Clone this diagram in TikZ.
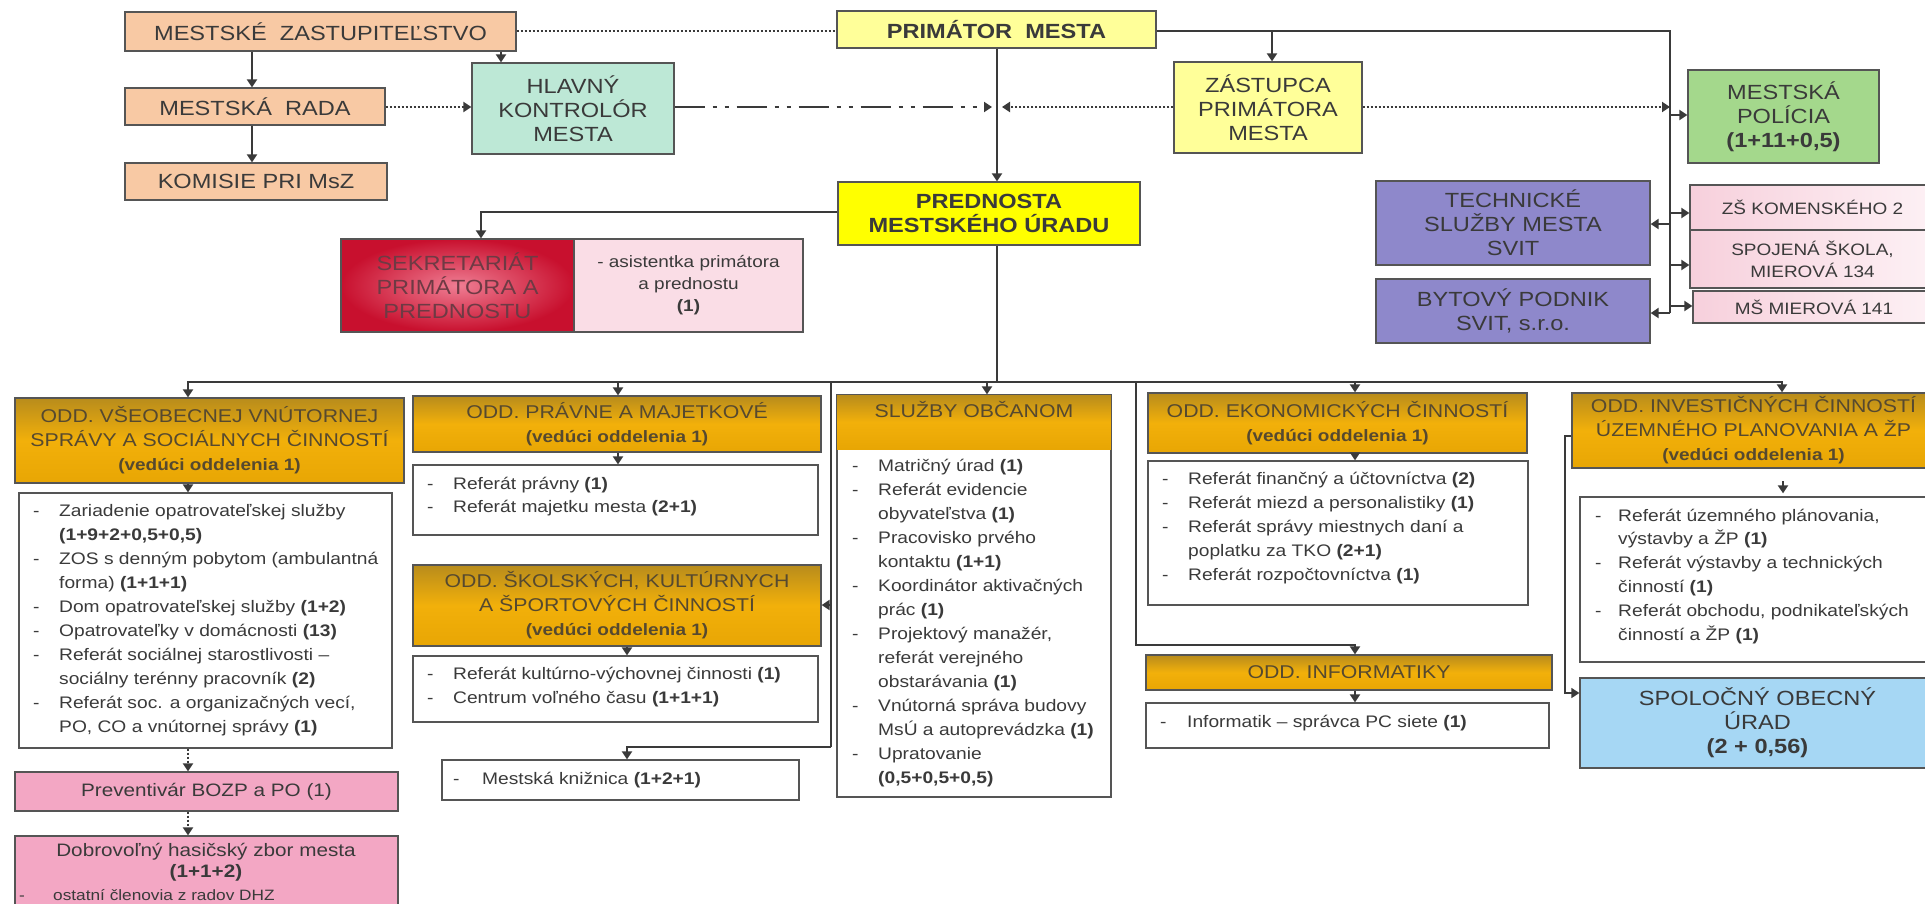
\documentclass[tikz,border=0pt]{standalone}
\usepackage{fontspec}
\setmainfont[FakeStretch=1.15]{Liberation Sans}
\usetikzlibrary{arrows.meta}
\definecolor{peach}{HTML}{F8C9A4}
\definecolor{mint}{HTML}{BDE8D6}
\definecolor{lyel}{HTML}{FFFF99}
\definecolor{byel}{HTML}{FFFF00}
\definecolor{pgreen}{HTML}{A4D88C}
\definecolor{purp}{HTML}{8E88CB}
\definecolor{lpink}{HTML}{FADDE6}
\definecolor{spka}{HTML}{F7D0DC}
\definecolor{spkb}{HTML}{FDF1F5}
\definecolor{mpink}{HTML}{F3A7C4}
\definecolor{skyb}{HTML}{A6D7F4}
\definecolor{redo}{HTML}{C8102E}
\definecolor{redi}{HTML}{EF7D93}
\definecolor{hdtop}{HTML}{B88C1C}
\definecolor{hdmid}{HTML}{F2B00A}
\definecolor{hdbot}{HTML}{E8A604}
\definecolor{bordc}{HTML}{555555}
\definecolor{linec}{HTML}{3A3A3A}
\definecolor{txt}{HTML}{3A3A3A}
\definecolor{hdtxt}{HTML}{56492F}
\definecolor{redtxt}{HTML}{6E3A44}
\newcommand\fbig{\fontsize{20.5}{24}\selectfont}
\newcommand\fhd{\fontsize{18.5}{24}\selectfont}
\newcommand\fved{\fontsize{16.5}{24}\selectfont\bfseries}
\newcommand\flst{\fontsize{16.7}{24}\selectfont}
\newcommand\fsm{\fontsize{16.5}{22}\selectfont}
\newcommand\lstrut{\rule{0pt}{16.8pt}}
\newcommand\bitem[1]{\makebox[26pt][l]{-}#1}
\newcommand\bcont[1]{\hspace*{26pt}#1}
\begin{document}
\begin{tikzpicture}[x=1pt,y=-1pt,
  rect/.style args={#1,#2,#3,#4}{minimum width={#3-#1}, minimum height={#4-#2}, at={({(#1+#3)/2},{(#2+#4)/2})}},
  box/.style={draw=bordc,line width=1.3pt,inner sep=0pt,align=center,text=txt,font=\fbig},
  hd/.style={box,top color=hdtop,bottom color=hdbot,middle color=hdmid,text=hdtxt,font=\fhd},
  school/.style={box,left color=spka,right color=spkb,font=\fsm},
  lbox/.style={draw=bordc,line width=1.3pt,inner sep=0pt,fill=white},
  lst/.style={anchor=north west,inner sep=0pt,align=left,text=txt,font=\flst},
  conn/.style={draw=linec,line width=2.4pt},
  tip/.style={-{Triangle[length=8pt,width=10pt]}},
  arr/.style={conn,tip},
  dotl/.style={draw=linec,line width=2pt,dash pattern=on 2pt off 2pt},
  dotarr/.style={dotl,tip},
  ddarr/.style={draw=linec,line width=2.4pt,dash pattern=on 30pt off 8pt on 4pt off 8pt on 4pt off 8pt,tip},
  thinarr/.style={draw=linec,line width=1.6pt,tip}
]
\fill[white] (0,0) rectangle (1925,903);
\useasboundingbox (0,0) rectangle (1925,903);

% helper coordinates
\coordinate (c1) at (252,0);
\coordinate (c2) at (501,0);
\coordinate (c3) at (997,0);
\coordinate (c4) at (1272,0);
\coordinate (c5) at (1670,0);
\coordinate (c6) at (481,0);
\coordinate (c7) at (188,0);
\coordinate (c8) at (618,0);
\coordinate (c8b) at (627,0);
\coordinate (c9) at (831,0);
\coordinate (c10) at (987,0);
\coordinate (c11) at (1136,0);
\coordinate (c12) at (1355,0);
\coordinate (c13) at (1782,0);
\coordinate (c14) at (1565,0);
\coordinate (r0) at (0,31);
\coordinate (r1) at (0,107);
\coordinate (yp) at (0,115);
\coordinate (yzs) at (0,213);
\coordinate (ys) at (0,212);
\coordinate (yt) at (0,224);
\coordinate (ysp) at (0,265);
\coordinate (yms) at (0,306);
\coordinate (ybyt) at (0,313);
\coordinate (bus) at (0,382);
\coordinate (ysk) at (0,605);
\coordinate (yk) at (0,747);
\coordinate (yi) at (0,645);
\coordinate (yb) at (0,436);
\coordinate (ysp2) at (0,693);
\coordinate (hk) at (992,107);
\coordinate (zk) at (1002,107);
\coordinate (fa) at (1783,481);

% top part
\node[box,fill=peach,rect={125,12,516,51}] (zast) {MESTSKÉ\ \ ZASTUPITEĽSTVO};
\node[box,fill=peach,rect={125,88,385,125}] (rada) {MESTSKÁ\ \ RADA};
\node[box,fill=peach,rect={125,163,387,200}] (komis) {KOMISIE PRI MsZ};
\node[box,fill=mint,rect={472,63,674,154}] (hlav) {HLAVNÝ\\KONTROLÓR\\MESTA};
\node[box,fill=lyel,rect={837,11,1156,48},font=\fbig\bfseries] (prim) {PRIMÁTOR\ \ MESTA};
\node[box,fill=byel,rect={838,182,1140,245},font=\fbig\bfseries] (pred) {PREDNOSTA\\MESTSKÉHO ÚRADU};
\node[box,fill=lyel,rect={1174,62,1362,153}] (zast2) {ZÁSTUPCA\\PRIMÁTORA\\MESTA};
\node[box,fill=pgreen,rect={1688,70,1879,163}] (pol) {MESTSKÁ\\POLÍCIA\\\textbf{(1+11+0,5)}};
\node[box,fill=purp,rect={1376,181,1650,265}] (tech) {TECHNICKÉ\\SLUŽBY MESTA\\SVIT};
\node[box,fill=purp,rect={1376,279,1650,343}] (byt) {BYTOVÝ PODNIK\\SVIT, s.r.o.};
\node[school,rect={1690,185,1935,230}] (zs) {ZŠ KOMENSKÉHO 2};
\node[school,rect={1690,230,1935,288}] (spoj) {SPOJENÁ ŠKOLA,\\MIEROVÁ 134};
\node[school,rect={1693,291,1935,323}] (ms) {MŠ MIEROVÁ 141};
\node[box,inner color=redi,outer color=redo,text=redtxt,rect={341,239,574,332}] (sekr) {SEKRETARIÁT\\PRIMÁTORA A\\PREDNOSTU};
\node[box,fill=lpink,font=\fsm,rect={574,239,803,332}] (asis) {- asistentka primátora\\a prednostu\\\textbf{(1)}};

% left column
\node[hd,rect={15,398,404,483}] (vseob) {ODD. VŠEOBECNEJ VNÚTORNEJ\\SPRÁVY A SOCIÁLNYCH ČINNOSTÍ\\{\fved (vedúci oddelenia 1)}};
\node[lbox,rect={19,493,392,748}] (vseobL) {};
\node[lst] (vseobT) at (33,499) {\lstrut\bitem{Zariadenie opatrovateľskej služby}\\
\bcont{\textbf{(1+9+2+0,5+0,5)}}\\
\bitem{ZOS s denným pobytom (ambulantná}\\
\bcont{forma) \textbf{(1+1+1)}}\\
\bitem{Dom opatrovateľskej služby \textbf{(1+2)}}\\
\bitem{Opatrovateľky v domácnosti \textbf{(13)}}\\
\bitem{Referát sociálnej starostlivosti –}\\
\bcont{sociálny terénny pracovník \textbf{(2)}}\\
\bitem{Referát soc. a organizačných vecí,}\\
\bcont{PO, CO a vnútornej správy \textbf{(1)}}};
\node[box,fill=mpink,font=\fontsize{18}{24}\selectfont,rect={15,772,398,811}] (prev) {Preventivár BOZP a PO (1)};
\node[box,fill=mpink,rect={15,836,398,912}] (dobr) {};
\node[align=center,inner sep=0pt,text=txt,font=\fontsize{18}{21}\selectfont] (dobrT) at (206,862) {Dobrovoľný hasičský zbor mesta\\\textbf{(1+1+2)}};
\node[anchor=base west,inner sep=0pt,text=txt,font=\fontsize{15}{18}\selectfont] (dobrS) at (19,900) {\makebox[34pt][l]{-}ostatní členovia z radov DHZ};

% pravne / skolske
\node[hd,rect={413,396,821,452}] (prav) {ODD. PRÁVNE A MAJETKOVÉ\\{\fved (vedúci oddelenia 1)}};
\node[lbox,rect={413,465,818,535}] (pravL) {};
\node[lst,font=\fontsize{16.7}{23}\selectfont] (pravT) at (427,472) {\lstrut\bitem{Referát právny \textbf{(1)}}\\\bitem{Referát majetku mesta \textbf{(2+1)}}};
\node[hd,rect={413,565,821,646}] (skol) {ODD. ŠKOLSKÝCH, KULTÚRNYCH\\A ŠPORTOVÝCH ČINNOSTÍ\\{\fved (vedúci oddelenia 1)}};
\node[lbox,rect={413,656,818,722}] (skolL) {};
\node[lst] (skolT) at (427,662) {\lstrut\bitem{Referát kultúrno-výchovnej činnosti \textbf{(1)}}\\\bitem{Centrum voľného času \textbf{(1+1+1)}}};
\node[lbox,rect={442,760,799,800}] (kniz) {};
\node[lst] (knizT) at (453,767) {\lstrut\makebox[29pt][l]{-}Mestská knižnica \textbf{(1+2+1)}};

% sluzby
\node[lbox,rect={837,395,1111,797}] (sluz) {};
\node[hd,draw=none,rect={837,395,1111,449}] (sluzH) {};
\draw[bordc,line width=1.3pt] (sluz.north west) rectangle (sluz.south east);
\node[inner sep=0pt,text=hdtxt,font=\fhd] (sluzT) at (974,409) {SLUŽBY OBČANOM};
\node[lst] (sluzL) at (852,454) {\lstrut\bitem{Matričný úrad \textbf{(1)}}\\
\bitem{Referát evidencie}\\
\bcont{obyvateľstva \textbf{(1)}}\\
\bitem{Pracovisko prvého}\\
\bcont{kontaktu \textbf{(1+1)}}\\
\bitem{Koordinátor aktivačných}\\
\bcont{prác \textbf{(1)}}\\
\bitem{Projektový manažér,}\\
\bcont{referát verejného}\\
\bcont{obstarávania \textbf{(1)}}\\
\bitem{Vnútorná správa budovy}\\
\bcont{MsÚ a autoprevádzka \textbf{(1)}}\\
\bitem{Upratovanie}\\
\bcont{\textbf{(0,5+0,5+0,5)}}};

% ekonomicke / informatiky
\node[hd,rect={1148,393,1527,453}] (ekon) {ODD. EKONOMICKÝCH ČINNOSTÍ\\{\fved (vedúci oddelenia 1)}};
\node[lbox,rect={1148,461,1528,605}] (ekonL) {};
\node[lst] (ekonT) at (1162,467) {\lstrut\bitem{Referát finančný a účtovníctva \textbf{(2)}}\\
\bitem{Referát miezd a personalistiky \textbf{(1)}}\\
\bitem{Referát správy miestnych daní a}\\
\bcont{poplatku za TKO \textbf{(2+1)}}\\
\bitem{Referát rozpočtovníctva \textbf{(1)}}};
\node[hd,rect={1146,655,1552,690}] (inf) {ODD. INFORMATIKY};
\node[lbox,rect={1146,703,1549,748}] (infL) {};
\node[lst] (infT) at (1160,710) {\lstrut\makebox[27pt][l]{-}Informatik – správca PC siete \textbf{(1)}};

% investicne
\node[hd,rect={1572,393,1935,468}] (inv) {ODD. INVESTIČNÝCH ČINNOSTÍ\\ÚZEMNÉHO PLANOVANIA A ŽP\\{\fved (vedúci oddelenia 1)}};
\node[lbox,rect={1580,497,1935,662}] (invL) {};
\node[lst,font=\fontsize{16.7}{23.8}\selectfont] (invT) at (1595,504) {\lstrut\makebox[23pt][l]{-}Referát územného plánovania,\\
\hspace*{23pt}výstavby a ŽP \textbf{(1)}\\
\makebox[23pt][l]{-}Referát výstavby a technických\\
\hspace*{23pt}činností \textbf{(1)}\\
\makebox[23pt][l]{-}Referát obchodu, podnikateľských\\
\hspace*{23pt}činností a ŽP \textbf{(1)}};
\node[box,fill=skyb,rect={1580,678,1935,768}] (spol) {SPOLOČNÝ OBECNÝ\\ÚRAD\\\textbf{(2 + 0,56)}};

% connectors: top
\draw[arr] (zast.south -| c1) -- (rada.north -| c1);
\draw[arr] (rada.south -| c1) -- (komis.north -| c1);
\draw[arr] (zast.south -| c2) -- (hlav.north -| c2);
\draw[dotarr] (rada.east |- r1) -- (hlav.west |- r1);
\draw[dotl] (zast.east |- r0) -- (prim.west |- r0);
\draw[arr] (prim.south -| c3) -- (pred.north -| c3);
\draw[ddarr] (hlav.east |- r1) -- (hk);
\draw[dotarr] (zast2.west |- r1) -- (zk);
\draw[conn] (prim.east |- r0) -| (c5 |- ybyt);
\draw[arr] (c4 |- r0) -- (zast2.north -| c4);
\draw[dotarr] (zast2.east |- r1) -- (c5 |- r1);
\draw[arr] (c5 |- yp) -- (pol.west |- yp);
\draw[arr] (c5 |- yt) -- (tech.east |- yt);
\draw[arr] (c5 |- ybyt) -- (byt.east |- ybyt);
\draw[arr] (c5 |- yzs) -- (zs.west |- yzs);
\draw[arr] (c5 |- ysp) -- (spoj.west |- ysp);
\draw[arr] (c5 |- yms) -- (ms.west |- yms);
\draw[arr] (pred.west |- ys) -| (sekr.north -| c6);

% bus
\draw[conn] (pred.south -| c3) -- (c3 |- bus);
\draw[arr] (c3 |- bus) -| (vseob.north -| c7);
\draw[arr] (c3 |- bus) -| (inv.north -| c13);
\draw[arr] (c8 |- bus) -- (prav.north -| c8);
\draw[arr] (c10 |- bus) -- (sluz.north -| c10);
\draw[arr] (c12 |- bus) -- (ekon.north -| c12);
\draw[conn] (c9 |- bus) -- (c9 |- yk);
\draw[arr] (c9 |- yk) -| (kniz.north -| c8b);
\draw[arr] (c9 |- ysk) -- (skol.east |- ysk);
\draw[arr] (c11 |- bus) |- (c12 |- yi) -- (inf.north -| c12);

% header -> list
\draw[arr] (vseob.south -| c7) -- (vseobL.north -| c7);
\draw[arr] (prav.south -| c8) -- (pravL.north -| c8);
\draw[arr] (skol.south -| c8b) -- (skolL.north -| c8b);
\draw[arr] (ekon.south -| c12) -- (ekonL.north -| c12);
\draw[arr] (inf.south -| c12) -- (infL.north -| c12);
\draw[arr,shorten >=3pt] (fa) -- (invL.north -| fa);
\draw[dotarr] (vseobL.south -| c7) -- (prev.north -| c7);
\draw[dotarr] (prev.south -| c7) -- (dobr.north -| c7);
\draw[thinarr] (inv.west |- yb) -- (c14 |- yb) -- (c14 |- ysp2) -- (spol.west |- ysp2);
\end{tikzpicture}
\end{document}
